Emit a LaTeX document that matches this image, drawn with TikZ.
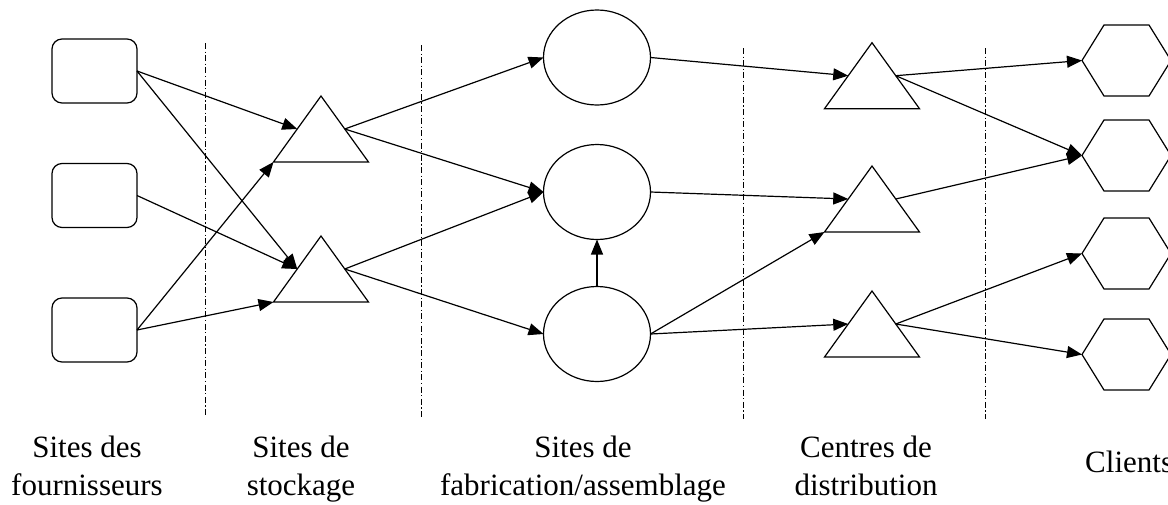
\documentclass[tikz,border=0pt]{standalone}
\usepackage{fontspec}
\setmainfont{Liberation Serif}
\usetikzlibrary{arrows.meta,shapes.geometric}
\begin{document}
\begin{tikzpicture}[x=1pt,y=-1pt,
  shp/.style={draw, line width=1.2pt},
  supp/.style={shp, rounded corners=10pt, minimum width=85pt, minimum height=64pt, inner sep=0pt, outer sep=0pt},
  fab/.style={shp, ellipse, minimum width=107pt, minimum height=95pt, inner sep=0pt, outer sep=0pt},
  conn/.style={line width=1.2pt, -{Triangle[length=15pt,width=12pt]}},
  sepline/.style={line width=1pt, dash pattern=on 6pt off 2.5pt on 1.2pt off 2.5pt},
  lbl/.style={font=\fontsize{31}{38}\selectfont, align=center, inner sep=0pt},
  tri/.pic={\draw[line width=1.2pt] (-47.5,33) -- (0,-33) -- (47.5,33) -- cycle;
     \coordinate (-l) at (-23.75,0); \coordinate (-r) at (23.75,0); \coordinate (-bl) at (-47.5,33);},
  hexa/.pic={\draw[line width=1.2pt] (-44.5,0) -- (-22.5,-35.5) -- (22.5,-35.5) -- (44.5,0) -- (22.5,35.5) -- (-22.5,35.5) -- cycle;
     \coordinate (-w) at (-44.5,0);}
]
\clip (0,0) rectangle (1168,504);
\useasboundingbox (0,0) rectangle (1168,504);

% separators
\coordinate (d1t) at (205,43);  \coordinate (d1b) at (205,415);
\coordinate (d2t) at (421,45);  \coordinate (d2b) at (421,417);
\coordinate (d3t) at (743,48);  \coordinate (d3b) at (743,419);
\coordinate (d4t) at (985,48);  \coordinate (d4b) at (985,419);
\draw[sepline] (d1t) -- (d1b);
\draw[sepline] (d2t) -- (d2b);
\draw[sepline] (d3t) -- (d3b);
\draw[sepline] (d4t) -- (d4b);

% suppliers
\node[supp] (b1) at (94.5,71) {};
\node[supp] (b2) at (94.5,195.5) {};
\node[supp] (b3) at (94.5,330) {};

% storage
\pic (s1) at (321,129) {tri};
\pic (s2) at (321,269) {tri};

% fabrication
\node[fab] (e1) at (597,57.5) {};
\node[fab] (e2) at (597,192) {};
\node[fab] (e3) at (597,334) {};

% distribution
\pic (dA) at (872,75.7) {tri};
\pic (dB) at (872,199) {tri};
\pic (dC) at (872,324) {tri};

% clients
\pic (h1) at (1126.5,60.5) {hexa};
\pic (h2) at (1126.5,155.5) {hexa};
\pic (h3) at (1126.5,253.5) {hexa};
\pic (h4) at (1126.5,354.5) {hexa};

% connectors
\draw[conn] (b1.east) -- (s1-l);
\draw[conn] (b1.east) -- (s2-l);
\draw[conn] (b2.east) -- (s2-l);
\draw[conn] (b3.east) -- (s1-bl);
\draw[conn] (b3.east) -- (s2-bl);
\draw[conn] (s1-r) -- (e1.west);
\draw[conn] (s1-r) -- (e2.west);
\draw[conn] (s2-r) -- (e2.west);
\draw[conn] (s2-r) -- (e3.west);
\draw[conn] (e3.north) -- (e2.south);
\draw[conn] (e1.east) -- (dA-l);
\draw[conn] (e2.east) -- (dB-l);
\draw[conn] (e3.east) -- (dB-bl);
\draw[conn] (e3.east) -- (dC-l);
\draw[conn] (dA-r) -- (h1-w);
\draw[conn] (dA-r) -- (h2-w);
\draw[conn] (dB-r) -- (h2-w);
\draw[conn] (dC-r) -- (h3-w);
\draw[conn] (dC-r) -- (h4-w);

% labels
\node[lbl, anchor=base] (l1) at (87,495) {Sites des\\fournisseurs};
\node[lbl, anchor=base] (l2) at (301,495) {Sites de\\stockage};
\node[lbl, anchor=base] (l3) at (583,495) {Sites de\\fabrication/assemblage};
\node[lbl, anchor=base] (l4) at (866,495) {Centres de\\distribution};
\node[lbl, anchor=base west] (l5) at (1085,472) {Clients};
\end{tikzpicture}
\end{document}
